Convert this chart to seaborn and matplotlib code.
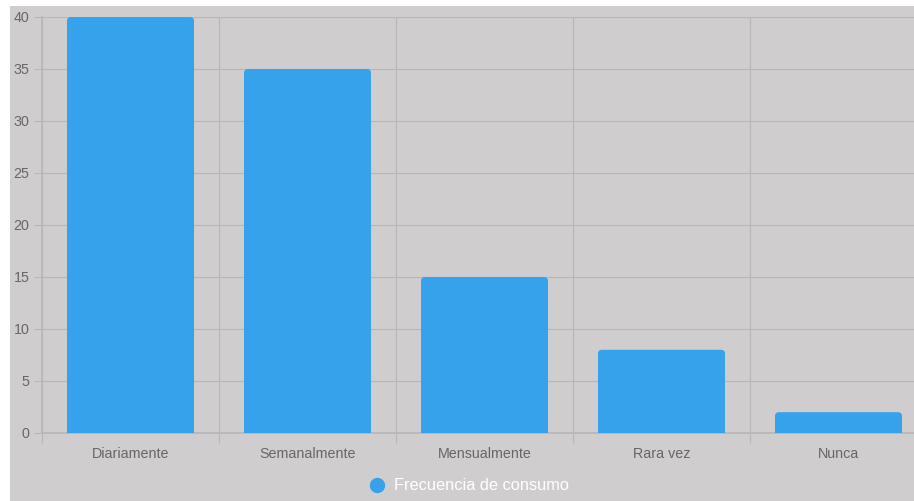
import matplotlib
matplotlib.use("Agg")
import matplotlib.pyplot as plt
import seaborn as sns
import pandas as pd
from matplotlib.patches import FancyBboxPatch, Rectangle
from matplotlib.lines import Line2D

categories = ["Diariamente", "Semanalmente", "Mensualmente", "Rara vez", "Nunca"]
values = [40, 35, 15, 8, 2]
series_name = "Frecuencia de consumo"
y_ticks = [0, 5, 10, 15, 20, 25, 30, 35, 40]

BG = "#d0cdcf"
BAR = "#36a2eb"
GRID = "#b9b6b8"
TXT = "#666666"

sns.set_theme(style="white")
plt.rcParams["font.family"] = ["Liberation Sans", "DejaVu Sans"]

W, H = 914, 501
fig = plt.figure(figsize=(W / 100, H / 100), dpi=100)
fig.patch.set_facecolor("white")
fig.patches.append(Rectangle((10 / W, 0), 1, 1 - 6 / H, transform=fig.transFigure,
                             facecolor=BG, edgecolor="none", zorder=-5))

ax = fig.add_axes([42 / W, (H - 433) / H, (927 - 42) / W, (433 - 17) / H])
ax.set_facecolor(BG)
ax.set_zorder(1)

df = pd.DataFrame({"cat": categories, "val": values})
sns.barplot(data=df, x="cat", y="val", color=BAR, width=127 / 177, saturation=1, ax=ax, zorder=3)

# rounded top corners
xpx = 177.0
ypx = 416.0 / 40
r = 4.0
for p in list(ax.patches):
    x, w, h = p.get_x(), p.get_width(), p.get_height()
    p.set_visible(False)
    fb = FancyBboxPatch((x, -1), w, h + 1,
                        boxstyle=f"round,pad=0,rounding_size={r / xpx}",
                        mutation_aspect=xpx / ypx,
                        facecolor=BAR, edgecolor="none", zorder=3)
    ax.add_patch(fb)

ax.set_xlim(-0.5, len(categories) - 0.5)
ax.set_ylim(0, 40)
ax.set_yticks(y_ticks)
ax.set_xticks(range(len(categories)))
ax.set_xticks([i - 0.5 for i in range(len(categories) + 1)], minor=True)
ax.set_xticklabels(categories)
ax.set_xlabel("")
ax.set_ylabel("")

for s in ax.spines.values():
    s.set_visible(False)
ax.spines["left"].set_visible(True)
ax.spines["left"].set_color(GRID)
ax.spines["bottom"].set_visible(True)
ax.spines["bottom"].set_color(GRID)

ax.grid(True, axis="y", color=GRID, linewidth=0.8, zorder=1)
ax.grid(True, axis="x", which="minor", color=GRID, linewidth=0.8, zorder=1)
ax.set_axisbelow(True)

ax.tick_params(axis="x", which="major", length=0, pad=10, labelsize=10.3, labelcolor=TXT)
ax.tick_params(axis="x", which="minor", length=7.5, width=0.8, color=GRID, direction="out", bottom=True)
ax.tick_params(axis="y", length=6, width=0.8, color=GRID, pad=3, labelsize=10.3, labelcolor=TXT, left=True)

handle = Line2D([], [], marker="o", linestyle="none", markersize=10,
                markerfacecolor=BAR, markeredgecolor=BAR)
fig.legend([handle], [series_name], loc="center", bbox_to_anchor=(469 / W, (H - 486) / H),
           frameon=False, fontsize=11.8, labelcolor="white", handletextpad=0.55,
           handlelength=1.0)

fig.savefig("out.png", dpi=100, facecolor=fig.get_facecolor())
